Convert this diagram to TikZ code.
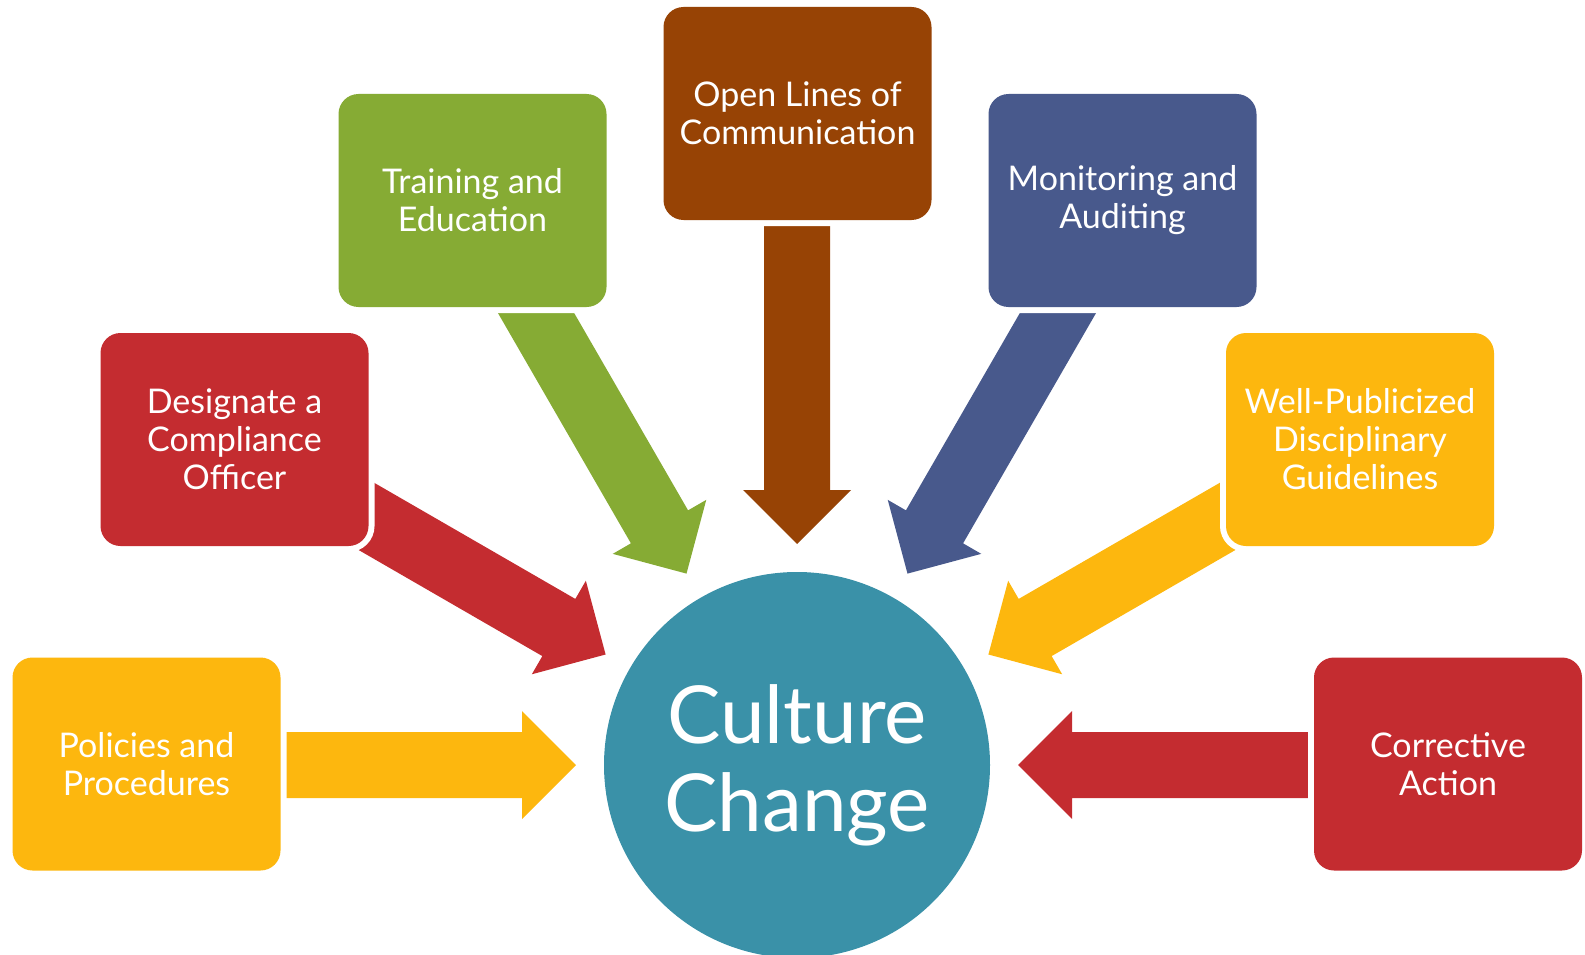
\documentclass[tikz,border=0pt]{standalone}
\usepackage{fontspec}
\setmainfont{Lato}
\definecolor{gold}{RGB}{253,183,14}
\definecolor{crimson}{RGB}{196,44,48}
\definecolor{leaf}{RGB}{134,171,52}
\definecolor{rust}{RGB}{151,67,5}
\definecolor{slate}{RGB}{72,89,140}
\definecolor{hubteal}{RGB}{58,145,168}
\pgfdeclarelayer{bg}
\pgfsetlayers{bg,main}
% block arrow pointing at the hub from direction #1 (degrees), colour #2
\newcommand\spoke[2]{%
  \begin{pgfonlayer}{bg}
    \fill[#2, shift={(hub.center)}, rotate=#1]
      (560,33) -- (275,33) -- (275,54) -- (221,0) -- (275,-54) -- (275,-33) -- (560,-33) -- cycle;
  \end{pgfonlayer}}
\begin{document}
\begin{tikzpicture}[x=1pt,y=1pt,
  box/.style={rectangle, rounded corners=20pt, minimum width=268pt, minimum height=213pt,
    inner sep=0pt, align=center, text=white, font=\fontsize{34}{38}\selectfont,
    preaction={draw=white, line width=12pt}},
  hub/.style={circle, minimum size=386pt, inner sep=0pt, fill=hubteal, text=white,
    align=center, font=\fontsize{80}{88}\selectfont}]
\useasboundingbox (0,0) rectangle (1585,-955);

\node[hub] (hub) at (797,-765) {Culture\\Change};

\node[box, fill=gold]    (pol) at (146.5,-764)  {Policies and\\Procedures};
\node[box, fill=crimson] (des) at (234.5,-439.5) {Designate a\\Compliance\\Officer};
\node[box, fill=leaf]    (tra) at (472.5,-200.5) {Training and\\Education};
\node[box, fill=rust]    (ope) at (797.5,-113.5) {Open Lines of\\Communication};
\node[box, fill=slate]   (mon) at (1122.5,-200.5) {Monitoring and\\Auditing};
\node[box, fill=gold]    (wel) at (1360,-439.5) {Well-Publicized\\Disciplinary\\Guidelines};
\node[box, fill=crimson] (cor) at (1448,-764)   {Corrective\\Action};

\spoke{180}{gold}
\spoke{150}{crimson}
\spoke{120}{leaf}
\spoke{90}{rust}
\spoke{60}{slate}
\spoke{30}{gold}
\spoke{0}{crimson}
\end{tikzpicture}
\end{document}
